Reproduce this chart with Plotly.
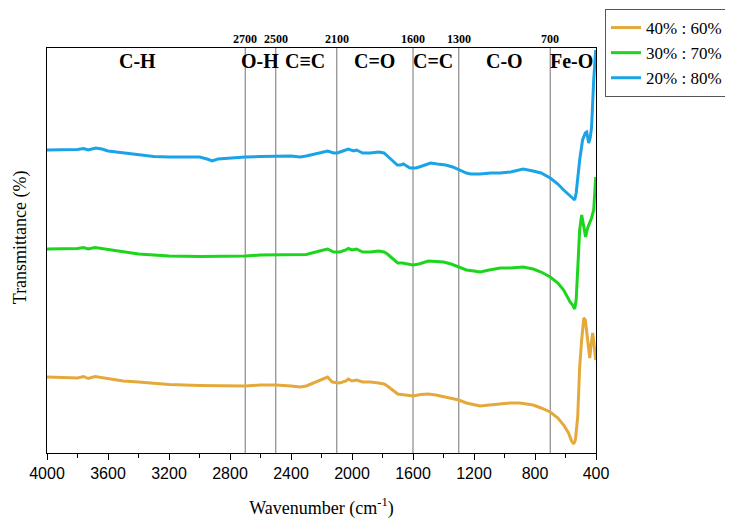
import plotly.graph_objects as go

# Wavenumbers (cm-1) and transmittance (arbitrary, offset) for each sample
wn_blue = [4000, 3900, 3800, 3760, 3730, 3680, 3640, 3600, 3500, 3400, 3300, 3200, 3100, 3000, 2950, 2917, 2880, 2800, 2700, 2600, 2500, 2400, 2340, 2300, 2200, 2160, 2120, 2096, 2060, 2024, 1990, 1970, 1930, 1880, 1825, 1790, 1768, 1740, 1703, 1680, 1663, 1620, 1580, 1540, 1485, 1440, 1385, 1340, 1300, 1250, 1222, 1160, 1090, 1028, 960, 878, 812, 760, 700, 650, 612, 570, 553, 540, 530, 520, 507, 488, 470, 461, 448, 438, 429, 415, 402]
t_blue = [303, 303, 303.5, 304.5, 303, 305, 304, 302, 300, 298, 296.5, 296, 296, 296, 294, 292, 294, 295, 296, 296.5, 297, 297, 296, 297, 300.5, 302, 300, 300, 302, 304, 302, 303, 300, 300, 301, 300, 297, 293, 288, 288, 289, 285, 285, 287, 290, 289, 288, 286, 283, 280, 279, 279, 280, 280, 281, 284, 282, 280, 275, 269, 263, 257, 254, 253, 260, 275, 293, 313, 320, 321, 310, 315, 326, 373, 403]

wn_green = [4000, 3900, 3800, 3760, 3730, 3685, 3640, 3600, 3500, 3400, 3300, 3200, 3000, 2900, 2800, 2700, 2600, 2500, 2400, 2300, 2200, 2160, 2120, 2080, 2040, 2024, 2000, 1970, 1930, 1880, 1825, 1790, 1768, 1720, 1700, 1670, 1640, 1600, 1560, 1500, 1450, 1400, 1350, 1300, 1250, 1200, 1160, 1100, 1028, 960, 878, 812, 760, 700, 650, 612, 570, 553, 540, 530, 520, 507, 494, 480, 468, 455, 440, 429, 415, 402]
t_green = [204, 204, 204.5, 205.5, 204, 205.5, 204.5, 203, 201, 199, 198, 197, 196.5, 196.5, 197, 197, 198, 198, 198, 198.5, 202.5, 204, 201, 201, 203, 204.5, 203, 204, 201, 201, 202, 201, 199, 192, 190, 190, 189, 188, 189, 192, 191.5, 191, 189, 186, 183, 182, 181, 183, 185, 185, 186, 184, 181, 176, 170, 163, 151, 148, 144, 153, 183, 223, 238, 228, 216, 225, 231, 235, 243, 276]

wn_orange = [4000, 3900, 3800, 3760, 3730, 3685, 3640, 3600, 3500, 3400, 3300, 3200, 3000, 2840, 2700, 2600, 2500, 2400, 2340, 2300, 2200, 2160, 2130, 2080, 2040, 2024, 2000, 1970, 1930, 1880, 1825, 1790, 1768, 1720, 1700, 1650, 1600, 1550, 1500, 1450, 1400, 1350, 1300, 1250, 1200, 1160, 1100, 1028, 960, 900, 850, 812, 760, 700, 650, 612, 580, 560, 546, 535, 520, 507, 494, 480, 470, 460, 450, 441, 432, 422, 412, 402]
t_orange = [76, 75.5, 75, 76.5, 74.5, 76.5, 75.5, 74, 72, 71, 69.5, 68.5, 67.5, 67, 67, 68, 68, 67, 66, 67, 73, 76, 71, 70, 72, 74, 72, 73, 71, 71, 70, 69, 67, 61, 59, 58, 57, 58.5, 59, 58, 56.5, 55, 53, 50, 48, 47, 48, 49, 50, 50, 49, 48, 45, 41, 35, 28, 20, 12, 9, 13, 36, 86, 113, 135, 133, 118, 103, 95, 108, 120, 108, 93]

series_names = ["40% : 60%", "30% : 70%", "20% : 80%"]
series_colors = ["#E5A93B", "#1ED51E", "#1BA3E8"]

band_lines = [2700, 2500, 2100, 1600, 1300, 700]
band_labels = ["C-H", "O-H", "C\u2261C", "C=O", "C=C", "C-O", "Fe-O"]
band_label_pos = [3404, 2604, 2309, 1851, 1470, 999, 560]

x_ticks = [4000, 3600, 3200, 2800, 2400, 2000, 1600, 1200, 800, 400]
x_minor = [3800, 3400, 3000, 2600, 2200, 1800, 1400, 1000, 600]

fig = go.Figure()
for wn, t, name, col in zip([wn_orange, wn_green, wn_blue], [t_orange, t_green, t_blue], series_names, series_colors):
    fig.add_trace(go.Scatter(x=wn, y=t, mode="lines", name=name,
                             line=dict(color=col, width=3)))

for v in band_lines:
    fig.add_shape(type="line", xref="x", yref="paper", x0=v, x1=v, y0=0, y1=1,
                  line=dict(color="#8a8a8a", width=1.2), layer="below")
    fig.add_annotation(x=v, y=1.0, xref="x", yref="paper", text=f"<b>{v}</b>",
                       showarrow=False, font=dict(family="Liberation Serif", size=12, color="black"),
                       xanchor="center", yanchor="bottom", yshift=0)

for lab, pos in zip(band_labels, band_label_pos):
    fig.add_annotation(x=pos, y=1.0, xref="x", yref="paper", text=f"<b>{lab}</b>",
                       showarrow=False, font=dict(family="Liberation Serif", size=20, color="black"),
                       xanchor="center", yanchor="top", yshift=0)

# y-axis title placed slightly above centre, as in the reference
fig.add_annotation(x=-0.049, y=0.533, xref="paper", yref="paper", text="Transmittance (%)",
                   textangle=-90, showarrow=False, xanchor="center", yanchor="middle",
                   font=dict(family="Liberation Serif", size=18, color="black"))

# page body adds an 8px offset; the figure is sized so the visible area matches
W, H = 725, 511
fig.update_layout(
    width=W, height=H,
    margin=dict(l=39, r=137, t=40, b=66, autoexpand=False),
    paper_bgcolor="white", plot_bgcolor="white",
    showlegend=True,
    legend=dict(xref="container", yref="container", x=597 / W, y=1 - 1 / H,
                xanchor="left", yanchor="top",
                font=dict(family="Liberation Serif", size=17, color="black"),
                bordercolor="#555555", borderwidth=1, bgcolor="white",
                tracegroupgap=0, itemwidth=30),
    xaxis=dict(range=[4000, 400], tickvals=x_ticks, ticks="outside", ticklen=6,
               tickwidth=1.2, tickcolor="black", automargin=False,
               minor=dict(tickvals=x_minor, ticks="outside", ticklen=4,
                          tickcolor="black", tickwidth=1.2),
               showline=True, linecolor="black", linewidth=1.3, mirror=True,
               showgrid=False, zeroline=False,
               tickfont=dict(family="Liberation Sans", size=16, color="black"),
               title=dict(text="Wavenumber (cm<sup>-1</sup>)", standoff=20,
                          font=dict(family="Liberation Serif", size=18, color="black"))),
    yaxis=dict(range=[0, 405], showticklabels=False, ticks="", automargin=False,
               showline=True, linecolor="black", linewidth=1.3, mirror=True,
               showgrid=False, zeroline=False),
)

fig.write_html("out.html")
